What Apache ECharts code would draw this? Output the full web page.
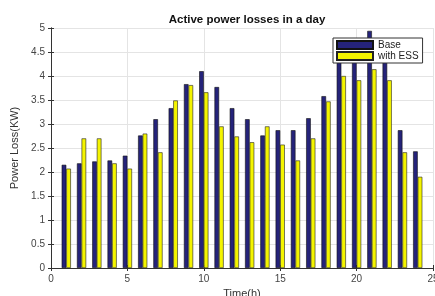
<!DOCTYPE html>
<html><head><meta charset="utf-8">
<script src="https://cdn.jsdelivr.net/npm/echarts@6/dist/echarts.min.js"></script>
<style>html,body{margin:0;padding:0;background:#fff}#c{width:435px;height:296px}</style>
</head><body><div id="c"></div>
<script>
const hours = [1,2,3,4,5,6,7,8,9,10,11,12,13,14,15,16,17,18,19,20,21,22,23,24];
const baseLoss = [2.15,2.18,2.22,2.24,2.34,2.76,3.10,3.33,3.83,4.10,3.77,3.33,3.10,2.76,2.87,2.87,3.12,3.58,4.50,4.60,4.94,4.45,2.87,2.43];
const essLoss = [2.07,2.70,2.70,2.18,2.07,2.80,2.41,3.49,3.81,3.66,2.95,2.74,2.62,2.95,2.57,2.24,2.70,3.47,4.00,3.91,4.14,3.91,2.41,1.90];
const seriesNames = ['Base','with ESS'];
const titleText = 'Active power losses in a day';
const xName = 'Time(h)';
const yName = 'Power Loss(KW)';

const font = 'Liberation Sans, Arial, sans-serif';
const chart = echarts.init(document.getElementById('c'));
const axisCommon = {
  axisLine:{show:true,lineStyle:{color:'#333',width:1}},
  axisTick:{show:true,inside:true,length:3,lineStyle:{color:'#333'}},
};
chart.setOption({
  animation:false,
  title:{text:titleText,left:242,top:9,textAlign:'center',
    textStyle:{fontFamily:font,fontSize:11.5,fontWeight:'bold',color:'#111'}},
  legend:{data:seriesNames,left:333,top:38,orient:'vertical',icon:'rect',itemWidth:36,itemHeight:8,itemGap:1,
    padding:[2,4,2,3],backgroundColor:'#fff',borderColor:'#333',borderWidth:1,borderRadius:0,
    textStyle:{fontFamily:font,fontSize:10,color:'#222',lineHeight:10}},
  grid:{left:51,right:2,top:28,bottom:28,outerBoundsMode:'none',containLabel:false},
  xAxis:[{type:'value',min:0,max:25,interval:5,...axisCommon,
    splitLine:{show:true,lineStyle:{color:'#e4e4e4'}},
    axisLabel:{fontFamily:font,fontSize:10,color:'#444',margin:6},
    name:xName,nameLocation:'middle',nameGap:18,nameTextStyle:{fontFamily:font,fontSize:11,color:'#333'}},
   {type:'value',position:'top',min:0,max:25,interval:5,...axisCommon,axisLabel:{show:false},splitLine:{show:false}}],
  yAxis:[{type:'value',min:0,max:5,interval:0.5,...axisCommon,
    splitLine:{show:true,lineStyle:{color:'#e4e4e4'}},
    axisLabel:{fontFamily:font,fontSize:10,color:'#444',margin:6},
    name:yName,nameLocation:'middle',nameGap:28,nameTextStyle:{fontFamily:font,fontSize:11,color:'#333'}},
   {type:'value',position:'right',min:0,max:5,interval:0.5,...axisCommon,axisLabel:{show:false},splitLine:{show:false}}],
  series:[
    {name:seriesNames[0],type:'bar',barWidth:4.6,barGap:'0%',
      itemStyle:{color:'#25237a',borderColor:'#111',borderWidth:0.6},
      data:hours.map((h,i)=>[h,baseLoss[i]])},
    {name:seriesNames[1],type:'bar',barWidth:4.6,barGap:'0%',
      itemStyle:{color:'#f4f400',borderColor:'#222',borderWidth:0.6},
      data:hours.map((h,i)=>[h,essLoss[i]])}
  ]
});
</script></body></html>
